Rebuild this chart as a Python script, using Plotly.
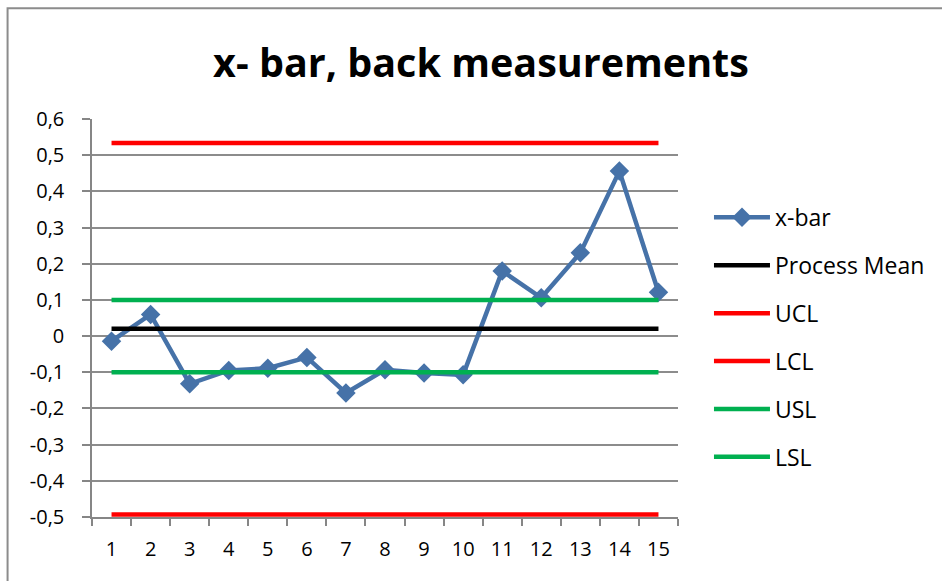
import plotly.graph_objects as go

samples = [str(i) for i in range(1, 16)]
xbar = [-0.014, 0.060, -0.132, -0.095, -0.089, -0.059, -0.157, -0.093,
        -0.102, -0.107, 0.180, 0.106, 0.230, 0.456, 0.121]
process_mean = [0.02] * 15
ucl = [0.534] * 15
lcl = [-0.493] * 15
usl = [0.10] * 15
lsl = [-0.10] * 15

ytick_vals = [0.6, 0.5, 0.4, 0.3, 0.2, 0.1, 0.0, -0.1, -0.2, -0.3, -0.4, -0.5]
ytick_text = ["0,6", "0,5", "0,4", "0,3", "0,2", "0,1", "0", "-0,1", "-0,2", "-0,3", "-0,4", "-0,5"]

W, H = 942, 581
L, R, T, B = 91.5, 264, 119, 63.5
FONT = "Open Sans"
PW, PH = W - L - R, H - T - B

fig = go.Figure()
fig.add_trace(go.Scatter(x=samples, y=xbar, name="x-bar", mode="lines+markers",
                         line=dict(color="#4672A8", width=4.5),
                         marker=dict(symbol="diamond", size=15, color="#4672A8"),
                         legendgroup="a"))
fig.add_trace(go.Scatter(x=samples, y=process_mean, name="Process Mean", mode="lines",
                         line=dict(color="#000000", width=4.5), legendgroup="b"))
fig.add_trace(go.Scatter(x=samples, y=ucl, name="UCL", mode="lines",
                         line=dict(color="#FF0000", width=4.5), legendgroup="c"))
fig.add_trace(go.Scatter(x=samples, y=lcl, name="LCL", mode="lines",
                         line=dict(color="#FF0000", width=4.5), legendgroup="d"))
fig.add_trace(go.Scatter(x=samples, y=usl, name="USL", mode="lines",
                         line=dict(color="#00B050", width=4.5), legendgroup="e"))
fig.add_trace(go.Scatter(x=samples, y=lsl, name="LSL", mode="lines",
                         line=dict(color="#00B050", width=4.5), legendgroup="f"))

fig.update_layout(
    width=W, height=H,
    margin=dict(l=L, r=R, t=T, b=B, pad=0),
    paper_bgcolor="white", plot_bgcolor="white",
    font=dict(family=FONT, size=20, color="#000000"),
    title=dict(text="<b>x- bar, back measurements</b>", font=dict(family=FONT, size=39.5, color="#000000"),
               x=481 / W, xanchor="center", xref="container",
               y=1 - 63 / H, yanchor="middle", yref="container"),
    showlegend=True,
    legend=dict(x=(709 - L) / PW, xanchor="left", y=(H - B - 196) / PH,
                yanchor="top", font=dict(family=FONT, size=23, color="#000000"),
                tracegroupgap=15, bgcolor="rgba(0,0,0,0)", itemwidth=56,
                traceorder="grouped"),
    xaxis=dict(type="category", range=[-0.5, 14.5], showgrid=False,
               showline=True, linecolor="#868686", linewidth=1.5,
               ticks="outside", ticklen=7, tickcolor="#868686", tickwidth=1.5,
               tickson="boundaries", tickfont=dict(family=FONT, size=20),
               ticklabelstandoff=13, zeroline=False, fixedrange=True),
    yaxis=dict(range=[-0.5, 0.6], tickvals=ytick_vals, ticktext=ytick_text,
               showgrid=True, gridcolor="#8C8C8C", gridwidth=1.5,
               showline=True, linecolor="#868686", linewidth=1.5,
               ticks="outside", ticklen=8, tickcolor="#868686", tickwidth=1.5,
               tickfont=dict(family=FONT, size=20), ticklabelstandoff=14,
               zeroline=False, fixedrange=True),
    shapes=[dict(type="rect", xref="paper", yref="paper",
                 x0=(7 - L) / PW, x1=(W + 10 - L) / PW,
                 y0=(H - B - (H + 10)) / PH, y1=(H - B - 8) / PH,
                 line=dict(color="#8C8C8C", width=2), fillcolor="rgba(0,0,0,0)", layer="below")],
)

fig.write_html("out.html", config={"displayModeBar": False},
               post_script="document.body.style.margin='0';")
